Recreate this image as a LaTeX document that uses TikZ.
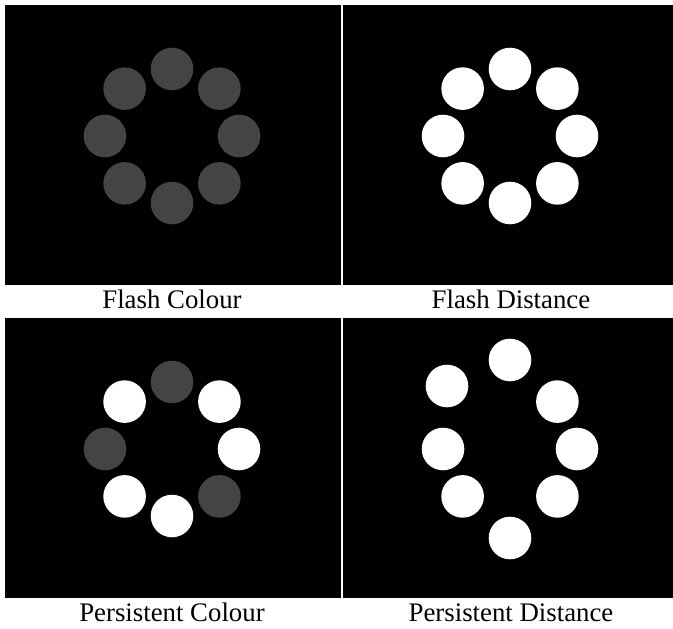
\documentclass[tikz,border=0pt]{standalone}
\usepackage{fontspec}
\setmainfont{Liberation Serif}
\usetikzlibrary{calc}
\definecolor{dimgrey}{HTML}{444444}
\begin{document}
\begin{tikzpicture}[x=1pt,y=-1pt,
  panel/.style={fill=black},
  dot/.style={circle, minimum size=42.6pt, inner sep=0pt, fill=white},
  dimdot/.style={dot, fill=dimgrey},
  caption/.style={anchor=base, inner sep=0pt, font=\fontsize{26.8}{30}\selectfont}]
\useasboundingbox[fill=white] (0,0) rectangle (673,629);
% panels
\fill[panel] (5,5) rectangle (341,285);
\fill[panel] (343,5) rectangle (673,285);
\fill[panel] (5,318) rectangle (341,598);
\fill[panel] (343,318) rectangle (673,598);
% Flash Colour
\foreach \a [count=\i] in {90,45,0,-45,-90,-135,180,135}
  \node[dimdot] (fc\i) at ($(172,136)+(\a:67 and -67)$) {};
% Flash Distance
\foreach \a [count=\i] in {90,45,0,-45,-90,-135,180,135}
  \node[dot] (fd\i) at ($(510,136)+(\a:67 and -67)$) {};
% Persistent Colour
\node[dimdot] (pc1) at (172,382) {};
\node[dot] (pc2) at (219.4,401.6) {};
\node[dot] (pc3) at (239,449) {};
\node[dimdot] (pc4) at (219.4,496.4) {};
\node[dot] (pc5) at (172,516) {};
\node[dot] (pc6) at (124.6,496.4) {};
\node[dimdot] (pc7) at (105,449) {};
\node[dot] (pc8) at (124.6,401.6) {};
% Persistent Distance
\node[dot] (pd1) at (510,360) {};
\node[dot] (pd2) at (557.4,401.6) {};
\node[dot] (pd3) at (577,449) {};
\node[dot] (pd4) at (557.4,496.4) {};
\node[dot] (pd5) at (510,538) {};
\node[dot] (pd6) at (462.6,496.4) {};
\node[dot] (pd7) at (443,449) {};
\node[dot] (pd8) at (447,386) {};
% captions
\node[caption] (cap1) at (172,308) {Flash Colour};
\node[caption] (cap2) at (511,308) {Flash Distance};
\node[caption] (cap3) at (172,621) {Persistent Colour};
\node[caption] (cap4) at (511,621) {Persistent Distance};
\end{tikzpicture}
\end{document}
